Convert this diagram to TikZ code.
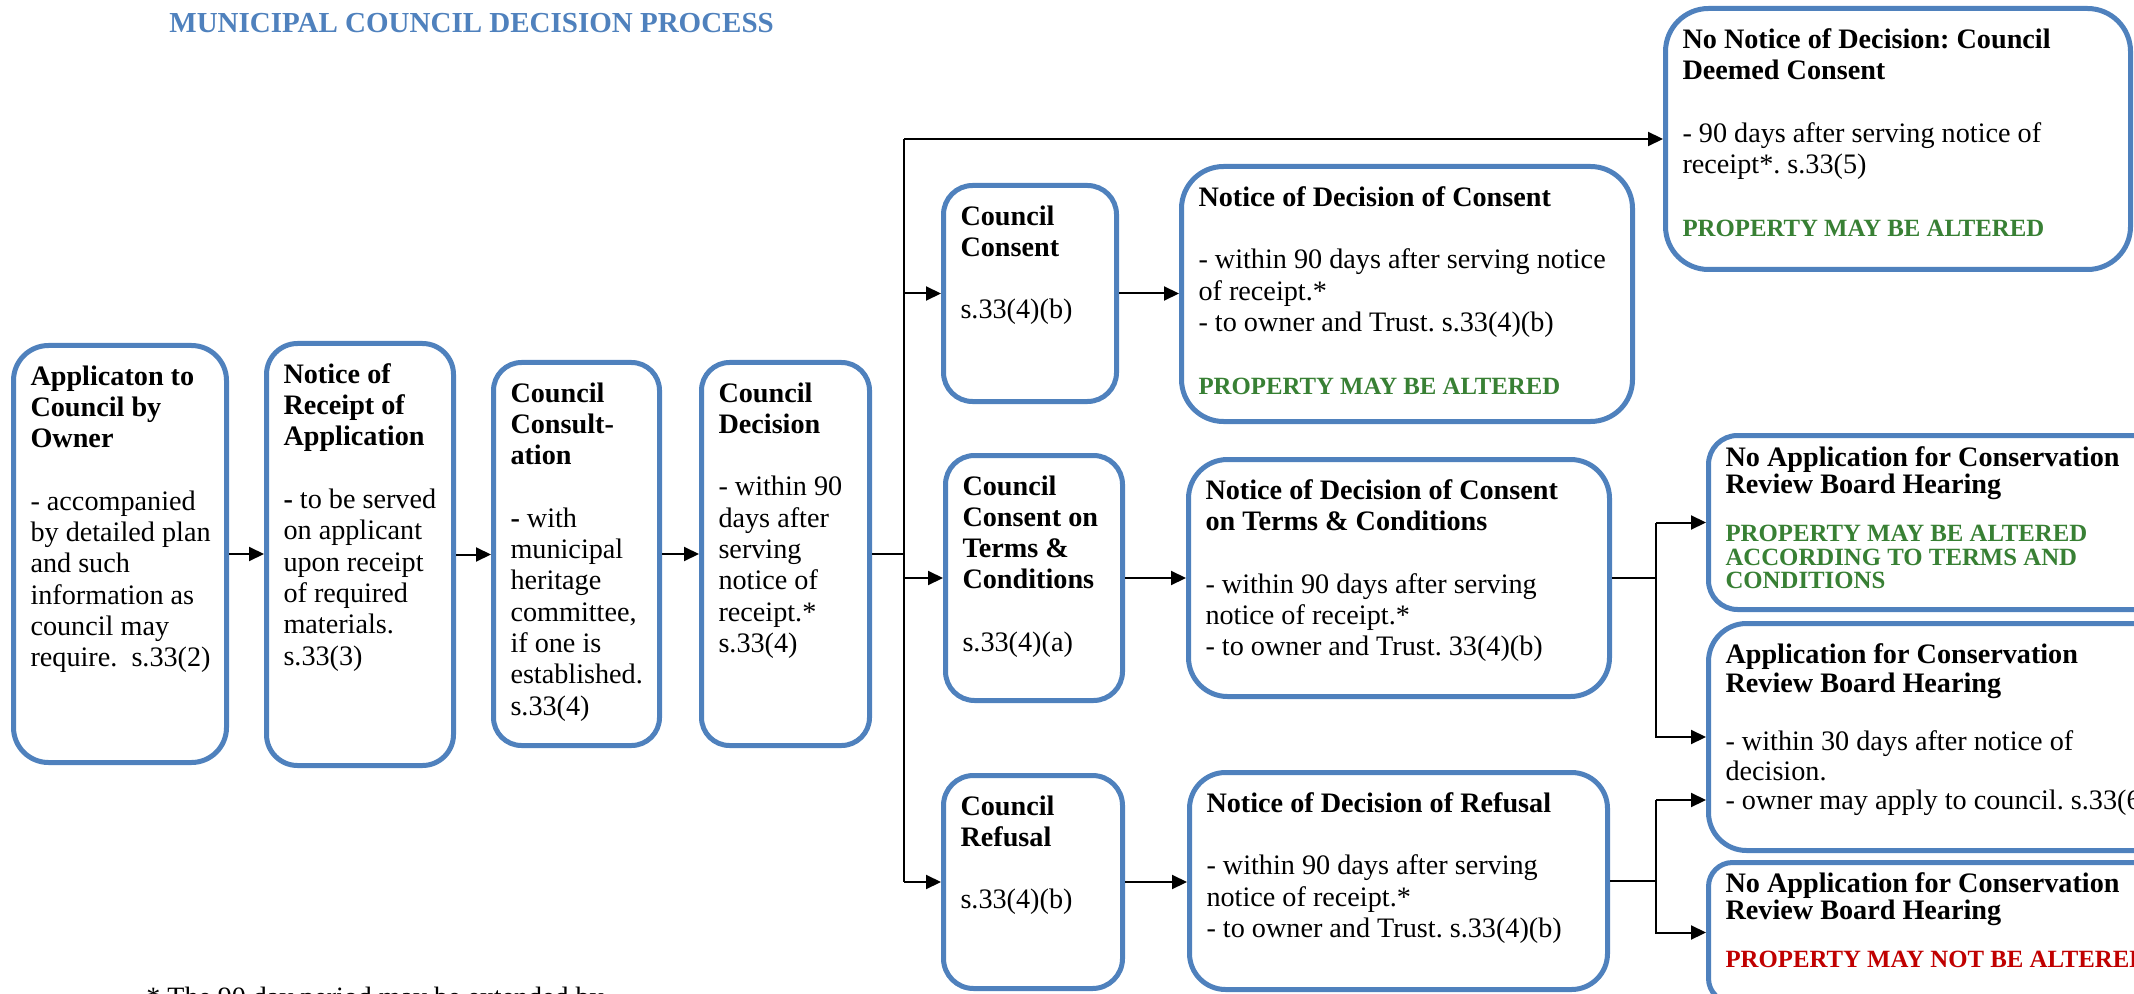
\documentclass[tikz,border=0pt]{standalone}
\usepackage{fontspec}
\setmainfont{Liberation Serif}
\usepackage{xcolor}
\usetikzlibrary{arrows.meta}

\definecolor{box-blue}{RGB}{79,129,189}
\definecolor{title-blue}{RGB}{79,129,189}
\definecolor{may-green}{RGB}{56,128,52}
\definecolor{may-not-red}{RGB}{192,0,0}

\frenchspacing
\newcommand{\boxtext}[3]{\begin{minipage}[t][#2][t]{#1}\raggedright\leftskip=5.5pt\relax #3\end{minipage}}
\newcommand{\outcome}[2]{{\fontsize{12.4pt}{11.6pt}\selectfont\bfseries\color{#1}#2}}

\tikzset{
    stage-box/.style = {draw=box-blue, fill=white, line width=2.5pt, rounded corners=#1, inner xsep=3pt, inner ysep=10pt, anchor=north west, font=\fontsize{14.1pt}{15.65pt}\selectfont},
    stage-box/.default = 15pt,
    flow-line/.style = {line width=1pt},
    flow-arrow/.style = {line width=1pt, -{Triangle[length=7.5pt,width=7pt]}},
}

\begin{document}
\begin{tikzpicture}[x=0.5pt, y=-0.5pt]
\useasboundingbox (0,0) rectangle (2134,994);
\clip (0,0) rectangle (2134,994);

\node[anchor=base west, inner sep=0pt, text=title-blue, font=\fontsize{14.5pt}{17pt}\selectfont\bfseries] (title) at (169,33) {MUNICIPAL COUNCIL DECISION PROCESS};

% application stages
\node[stage-box=17.5pt] (owner-app) at (11,343) {\boxtext{100.5pt}{188.5pt}{\textbf{Applicaton to\\Council by\\Owner}\\[\baselineskip]- accompanied\\by detailed plan\\and such\\information as\\council may\\require.\ \ s.33(2)}};
\node[stage-box=15.5pt] (receipt) at (264,341) {\boxtext{87.5pt}{191pt}{\textbf{Notice of\\Receipt of\\Application}\\[\baselineskip]\textbf{-} to be served\\on applicant\\upon receipt\\of required\\materials.\\s.33(3)}};
\node[stage-box=14pt] (consultation) at (491,360) {\boxtext{77pt}{171.5pt}{\textbf{Council\\Consult-\\ation}\\[\baselineskip]\textbf{-} with\\municipal\\heritage\\committee,\\if one is\\established.\\s.33(4)}};
\node[stage-box=14pt] (decision) at (699,360) {\boxtext{78pt}{171.5pt}{\textbf{Council\\Decision}\\[\baselineskip]- within 90\\days after\\serving\\notice of\\receipt.*\\s.33(4)}};

% council outcomes
\node[stage-box=21.5pt] (deemed) at (1663,6) {\boxtext{226.5pt}{110.5pt}{\textbf{No Notice of Decision: Council\\Deemed Consent}\\[\baselineskip]- 90 days after serving notice of\\receipt*. s.33(5)\\[\baselineskip]\outcome{may-green}{PROPERTY MAY BE ALTERED}}};
\node[stage-box=14.5pt] (consent) at (941,183) {\boxtext{80.5pt}{88pt}{\textbf{Council\\Consent}\\[\baselineskip]s.33(4)(b)}};
\node[stage-box=21pt] (consent-notice) at (1179,164) {\boxtext{219.5pt}{107.5pt}{\textbf{Notice of Decision of Consent}\\[\baselineskip]- within 90 days after serving notice\\of receipt.*\\- to owner and Trust. s.33(4)(b)\\[\baselineskip]\outcome{may-green}{PROPERTY MAY BE ALTERED}}};
\node[stage-box=14.5pt] (terms) at (943,453) {\boxtext{82.5pt}{102.5pt}{\textbf{Council\\Consent on\\Terms \&\\Conditions}\\[\baselineskip]s.33(4)(a)}};
\node[stage-box=19.5pt] (terms-notice) at (1186,457) {\boxtext{204.5pt}{98.5pt}{\textbf{Notice of Decision of Consent\\on Terms \& Conditions}\\[\baselineskip]- within 90 days after serving\\notice of receipt.*\\- to owner and Trust. 33(4)(b)}};
\node[stage-box=15pt] (refusal) at (941,773) {\boxtext{83.5pt}{86.5pt}{\textbf{Council\\Refusal}\\[\baselineskip]s.33(4)(b)}};
\node[stage-box=18pt] (refusal-notice) at (1187,770) {\boxtext{203pt}{88.5pt}{\textbf{Notice of Decision of Refusal}\\[\baselineskip]- within 90 days after serving\\notice of receipt.*\\- to owner and Trust. s.33(4)(b)}};

% review board
\node[stage-box=14.5pt, inner ysep=5.5pt, font=\fontsize{14.1pt}{11.6pt}\selectfont] (no-hearing-terms) at (1706,433) {\boxtext{254pt}{76pt}{\textbf{No Application for Conservation\\Review Board Hearing}\\[12.4pt]\outcome{may-green}{PROPERTY MAY BE ALTERED\\ACCORDING TO TERMS AND\\CONDITIONS}}};
\node[stage-box=19pt, font=\fontsize{14.1pt}{14.6pt}\selectfont] (hearing) at (1706,621) {\boxtext{254pt}{93.5pt}{\textbf{Application for Conservation\\Review Board Hearing}\\[\baselineskip]- within 30 days after notice of\\decision.\\- owner may apply to council. s.33(6)}};
\node[stage-box=12pt, inner ysep=5pt, font=\fontsize{14.1pt}{11.6pt}\selectfont] (no-hearing-refusal) at (1706,860) {\boxtext{254pt}{60pt}{\textbf{No Application for Conservation\\Review Board Hearing}\\[12.4pt]\outcome{may-not-red}{PROPERTY MAY NOT BE ALTERED}}};

\node[anchor=base west, inner sep=0pt, font=\fontsize{14pt}{16pt}\selectfont] (footnote) at (146,1006) {* The 90 day period may be extended by};

% connectors
\draw[flow-arrow] (owner-app.east) -- (owner-app.east -| receipt.west);
\draw[flow-arrow] (receipt.east) -- (receipt.east -| consultation.west);
\draw[flow-arrow] (consultation.east) -- (consultation.east -| decision.west);

\coordinate (decision-fork) at (904,552);
\draw[flow-line] (decision.east) -- (decision.east -| decision-fork);
\draw[flow-line] (decision-fork |- deemed.west) -- (decision-fork |- refusal.west);
\draw[flow-arrow] (decision-fork |- deemed.west) -- (deemed.west);
\draw[flow-arrow] (decision-fork |- consent.west) -- (consent.west);
\draw[flow-arrow] (decision-fork |- terms.west) -- (terms.west);
\draw[flow-arrow] (decision-fork |- refusal.west) -- (refusal.west);

\draw[flow-arrow] (consent.east) -- (consent.east -| consent-notice.west);
\draw[flow-arrow] (terms.east) -- (terms.east -| terms-notice.west);
\draw[flow-arrow] (refusal.east) -- (refusal.east -| refusal-notice.west);

\coordinate (review-fork) at (1656,576);
\draw[flow-line] (terms-notice.east) -- (terms-notice.east -| review-fork);
\draw[flow-arrow] (review-fork |- no-hearing-terms.west) -- (no-hearing-terms.west);
\draw[flow-arrow] (review-fork |- no-hearing-terms.west) |- (hearing.west);

\coordinate (appeal-in) at (1706,800);
\draw[flow-line] (refusal-notice.east) -- (refusal-notice.east -| review-fork);
\draw[flow-arrow] (review-fork |- appeal-in) -- (appeal-in);
\draw[flow-arrow] (review-fork |- appeal-in) |- (no-hearing-refusal.west);
\end{tikzpicture}
\end{document}
